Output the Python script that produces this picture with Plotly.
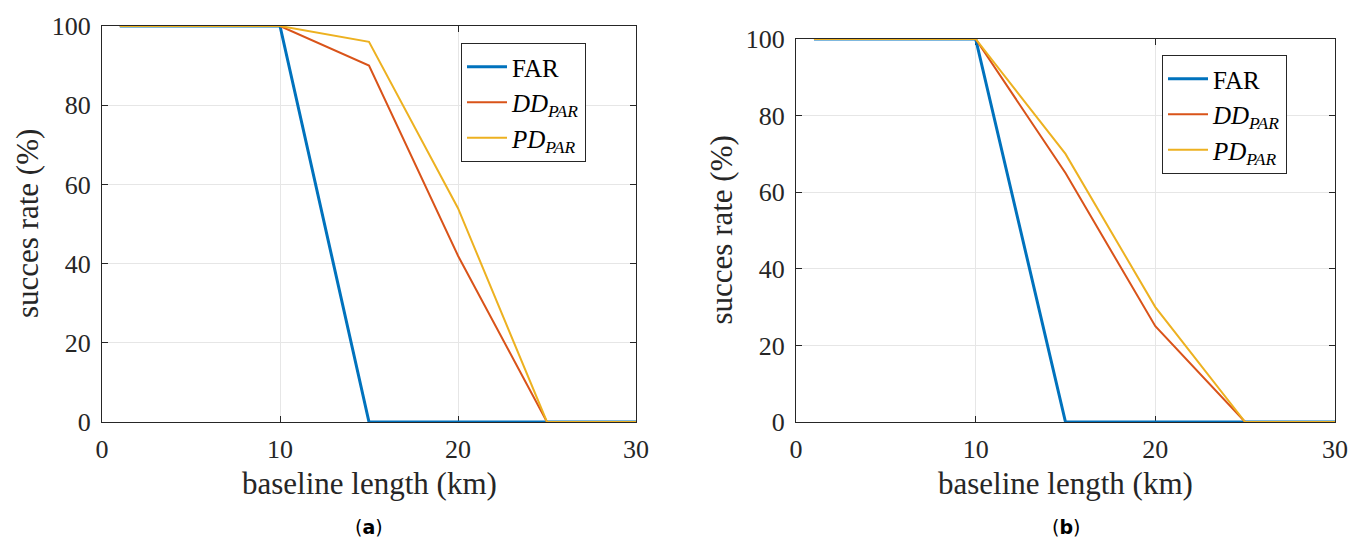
import plotly.graph_objects as go

# ---- data ----
baseline_km = [1, 5, 10, 15, 20, 25, 30]
far_a = [100, 100, 100, 0, 0, 0, 0]
dd_a = [100, 100, 100, 90, 42, 0, 0]
pd_a = [100, 100, 100, 96, 54, 0, 0]
far_b = [100, 100, 100, 0, 0, 0, 0]
dd_b = [100, 100, 100, 65, 25, 0, 0]
pd_b = [100, 100, 100, 70, 30, 0, 0]
x_ticks = [0, 10, 20, 30]
y_ticks = [0, 20, 40, 60, 80, 100]
series_names = ["FAR", "<i>DD</i><sub><i>PAR</i></sub>", "<i>PD</i><sub><i>PAR</i></sub>"]
x_title = "baseline length (km)"
y_title = "succes rate (%)"
captions = ["(<b>a</b>)", "(<b>b</b>)"]

colors = ["#0072BD", "#D95319", "#EDB120"]
widths = [3, 2, 2]
FONT = "'Liberation Serif', 'DejaVu Serif', serif"
W, H = 1359, 545
INK = "#262626"

def px_x(p):
    return p / W

def px_y(p):
    return 1 - p / H

# plot-area boxes in pixels: (left, right, top, bottom)
boxes = [(102, 636, 26, 422), (796, 1335, 39, 422)]
legend_pos = [(461, 43), (1162, 55)]

fig = go.Figure()
panels = [
    ("x", "y", "legend", [far_a, dd_a, pd_a]),
    ("x2", "y2", "legend2", [far_b, dd_b, pd_b]),
]
for xa, ya, lg, series in panels:
    for name, vals, c, w in zip(series_names, series, colors, widths):
        fig.add_trace(go.Scatter(
            x=baseline_km, y=vals, mode="lines", name=name,
            line=dict(color=c, width=w), xaxis=xa, yaxis=ya, legend=lg,
        ))

axis_common = dict(
    showline=True, linecolor=INK, linewidth=1, mirror="ticks",
    ticks="inside", ticklen=6, tickcolor=INK,
    showgrid=True, gridcolor="#e6e6e6", gridwidth=1,
    zeroline=False, tickfont=dict(family=FONT, size=26, color=INK),
    layer="below traces", automargin=False,
)

layout = dict(
    width=W, height=H,
    margin=dict(l=0, r=0, t=0, b=0, autoexpand=False),
    paper_bgcolor="white", plot_bgcolor="white",
    font=dict(family=FONT, color=INK),
    showlegend=True,
)
for i, (l, r, t, b) in enumerate(boxes):
    sfx = "" if i == 0 else str(i + 1)
    layout["xaxis" + sfx] = dict(domain=[px_x(l), px_x(r)], range=[0, 30], tickvals=x_ticks,
                                 anchor="y" + sfx, ticklabelstandoff=4, **axis_common)
    layout["yaxis" + sfx] = dict(domain=[px_y(b), px_y(t)], range=[0, 100], tickvals=y_ticks,
                                 anchor="x" + sfx, ticklabelstandoff=5, **axis_common)
    lx, ly = legend_pos[i]
    layout["legend" + sfx] = dict(
        x=px_x(lx), y=px_y(ly), xanchor="left", yanchor="top",
        bgcolor="white", bordercolor=INK, borderwidth=1,
        font=dict(family=FONT, size=25, color="#000"), tracegroupgap=0,
        itemwidth=40,
    )
fig.update_layout(**layout)

for i, (l, r, t, b) in enumerate(boxes):
    # x-axis title
    fig.add_annotation(text=x_title, x=px_x((l + r) / 2), y=px_y(483), xref="paper", yref="paper",
                       xanchor="center", yanchor="middle", showarrow=False,
                       font=dict(family=FONT, size=31, color=INK))
    # y-axis title
    fig.add_annotation(text=y_title, x=px_x(l - 75), y=px_y((t + b) / 2), xref="paper", yref="paper",
                       xanchor="center", yanchor="middle", showarrow=False, textangle=-90,
                       font=dict(family=FONT, size=31, color=INK))
    # caption
    fig.add_annotation(text=captions[i], x=px_x((l + r) / 2), y=px_y(527), xref="paper", yref="paper",
                       xanchor="center", yanchor="middle", showarrow=False,
                       font=dict(family="DejaVu Sans", size=19, color="#000"))

fig.write_html("out.html", config={"displayModeBar": False},
               post_script="document.body.style.margin='0';")
